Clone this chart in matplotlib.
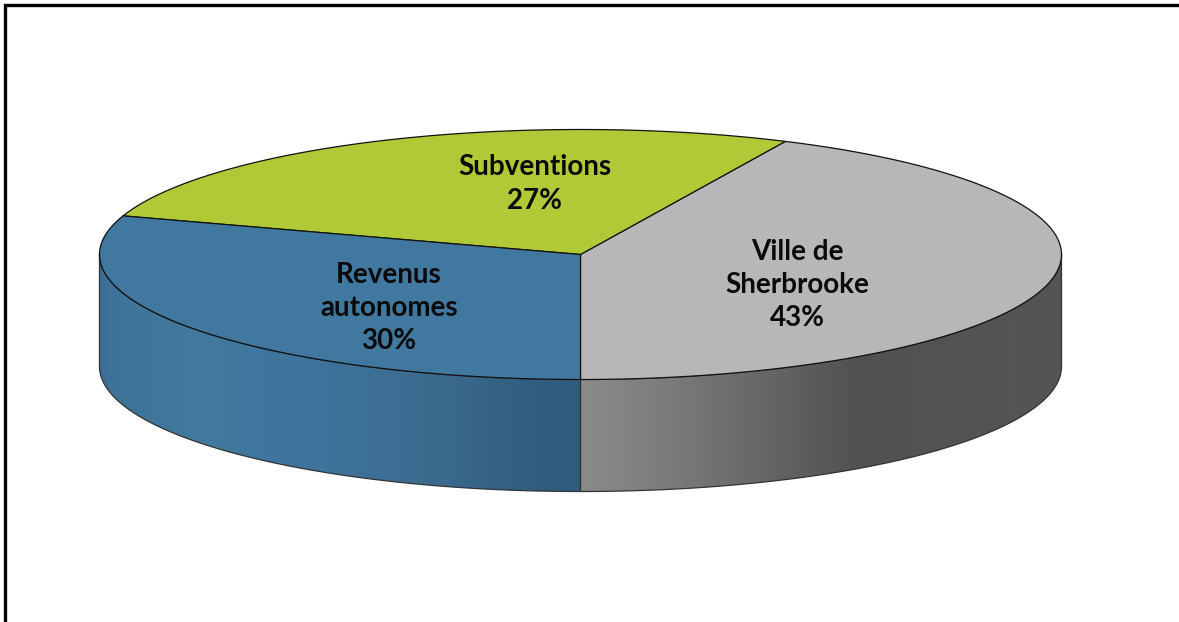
import numpy as np
import matplotlib
matplotlib.use("Agg")
import matplotlib.pyplot as plt
from matplotlib.colors import LinearSegmentedColormap
from matplotlib.patches import Polygon

# parts du budget, dans le sens antihoraire depuis le bas
noms = ["Ville de\nSherbrooke", "Subventions", "Revenus\nautonomes"]
parts = [43, 27, 30]

couleurs = ["#b7b7b9", "#b0ca37", "#41789f"]
pos_etiquettes = [(797, 285), (535, 184), (389, 308)]

# degrade des cotes : (x en pixels, couleur)
degrade_bleu = [(99, "#3c6d94"), (115, "#3f7499"), (200, "#41799f"), (330, "#3e739b"),
                (420, "#3c6c90"), (520, "#326083"), (581, "#2f5b7c")]
degrade_gris = [(581, "#8a8c8a"), (670, "#7a7b7b"), (780, "#636365"), (860, "#515151"), (1061, "#555555")]

cx, cy = 580.5, 254.5
rx, ry = 481, 125
epaisseur = 112

fig = plt.figure(figsize=(11.79, 6.22), dpi=100)
ax = fig.add_axes([0, 0, 1, 1])
ax.set_xlim(0, 1179)
ax.set_ylim(622, 0)
ax.axis("off")


def ellipse(a, dy=0):
    a = np.radians(a)
    return np.column_stack([cx + rx * np.cos(a), cy + dy - ry * np.sin(a)])


def cote(a1, a2, degrade):
    haut = ellipse(np.linspace(a1, a2, 200))
    bas = ellipse(np.linspace(a2, a1, 200), epaisseur)
    contour = np.vstack([haut, bas])
    x0, x1 = degrade[0][0], degrade[-1][0]
    stops = [((x - x0) / (x1 - x0), c) for x, c in degrade]
    cmap = LinearSegmentedColormap.from_list("cote", stops)
    im = ax.imshow(np.linspace(0, 1, 512).reshape(1, -1), cmap=cmap, aspect="auto",
                   extent=[x0, x1, cy + epaisseur + ry, cy], zorder=1)
    poly = Polygon(contour, closed=True, fc="none", ec="#333333", lw=0.9, zorder=2)
    ax.add_patch(poly)
    im.set_clip_path(poly)


# angles des separations, on part du bas du disque
angles = 270 + np.cumsum([0] + parts) * 3.6

# seuls les cotes du bas sont visibles
cote(180, 270, degrade_bleu)
cote(270, 360, degrade_gris)

for i in range(len(parts)):
    a = np.linspace(angles[i], angles[i + 1], 300)
    pts = np.vstack([[cx, cy], ellipse(a)])
    ax.add_patch(Polygon(pts, closed=True, fc=couleurs[i], ec="#111111", lw=0.9, zorder=3))

for nom, p, (x, y) in zip(noms, parts, pos_etiquettes):
    ax.text(x, y, nom + "\n" + str(p) + "%", ha="center", va="center", family="Lato",
            fontweight="bold", fontsize=20, linespacing=1.35, color="#0a0a0a", zorder=4)

# cadre noir en haut et a gauche
ax.plot([4.5, 4.5, 1179], [622, 5, 5], color="black", lw=2.4, solid_joinstyle="miter", zorder=5)

fig.savefig("out.png", dpi=100)
